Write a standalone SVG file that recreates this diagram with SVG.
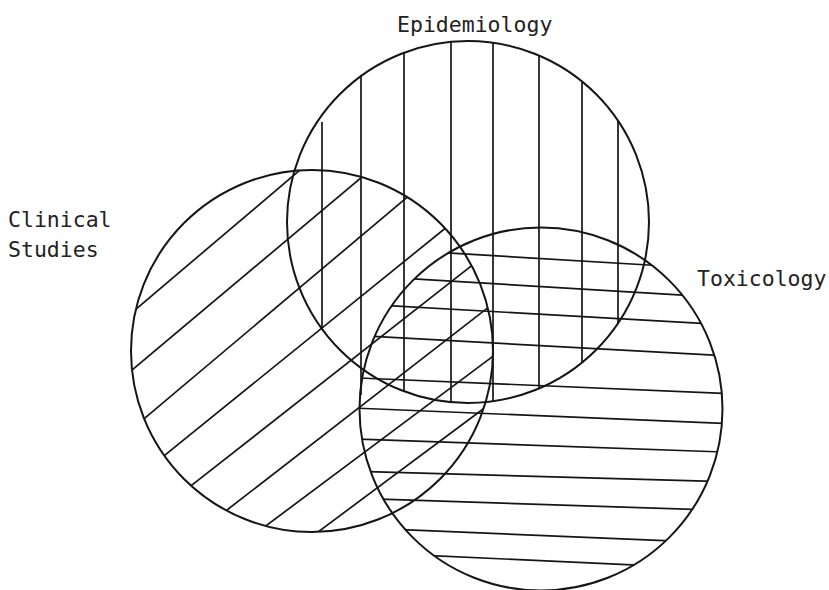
<svg xmlns="http://www.w3.org/2000/svg" width="829" height="590" viewBox="0 0 829 590">
<style>
  .ring{fill:none;stroke:#151515;stroke-width:2}
  .hatch{fill:none;stroke:#151515;stroke-width:1.7}
  .label{font-family:"DejaVu Sans Mono","Liberation Mono",monospace;font-size:21.5px;fill:#222}
</style>
<defs>
  <clipPath id="clipE"><circle cx="468" cy="222" r="181"/></clipPath>
  <clipPath id="clipC"><circle cx="312" cy="351" r="181"/></clipPath>
  <clipPath id="clipT"><circle cx="541" cy="409" r="181.5"/></clipPath>
</defs>
<rect width="829" height="590" fill="#fff"/>

<g id="node-epidemiology">
  <g class="hatch">
    <line x1="322" y1="122" x2="322" y2="328"/>
    <line x1="361" y1="75" x2="361" y2="395"/>
    <g clip-path="url(#clipE)">
      <line x1="404" y1="30" x2="404" y2="420"/>
      <line x1="451" y1="30" x2="451" y2="420"/>
      <line x1="493" y1="30" x2="493" y2="420"/>
      <line x1="539" y1="30" x2="539" y2="420"/>
      <line x1="582" y1="30" x2="582" y2="420"/>
      <line x1="618" y1="30" x2="618" y2="420"/>
    </g>
  </g>
  <circle class="ring" cx="468" cy="222" r="181"/>
  <text class="label" x="397" y="32">Epidemiology</text>
</g>

<g id="node-clinical">
  <g class="hatch" clip-path="url(#clipC)">
    <line x1="125" y1="318.5" x2="310" y2="161.5"/>
    <line x1="122" y1="378.4" x2="372" y2="168.6"/>
    <line x1="135" y1="426.4" x2="415" y2="190.6"/>
    <line x1="155" y1="463.1" x2="453" y2="222"/>
    <line x1="180" y1="494.4" x2="480" y2="259.2"/>
    <line x1="215" y1="519.3" x2="495" y2="302.2"/>
    <line x1="255" y1="534" x2="500" y2="351"/>
    <line x1="305" y1="541.7" x2="500" y2="396.4"/>
  </g>
  <circle class="ring" cx="312" cy="351" r="181"/>
  <text class="label" x="8" y="227">Clinical</text>
  <text class="label" x="8" y="257">Studies</text>
</g>

<g id="node-toxicology">
  <g class="hatch" clip-path="url(#clipT)">
    <line x1="440" y1="252.5" x2="665" y2="266"/>
    <line x1="405" y1="278.4" x2="695" y2="295.8"/>
    <line x1="375" y1="304.8" x2="715" y2="324.2"/>
    <line x1="360" y1="335.7" x2="725" y2="355.8"/>
    <line x1="350" y1="377.6" x2="735" y2="393.8"/>
    <line x1="350" y1="407.9" x2="735" y2="423.8"/>
    <line x1="350" y1="438.8" x2="735" y2="452.4"/>
    <line x1="350" y1="471.1" x2="730" y2="481.8"/>
    <line x1="365" y1="498.7" x2="730" y2="510.6"/>
    <line x1="390" y1="529.2" x2="710" y2="542.6"/>
    <line x1="420" y1="555.1" x2="670" y2="566.6"/>
  </g>
  <circle class="ring" cx="541" cy="409" r="181.5"/>
  <text class="label" x="697" y="286">Toxicology</text>
</g>

<g id="connectors"></g>
</svg>
